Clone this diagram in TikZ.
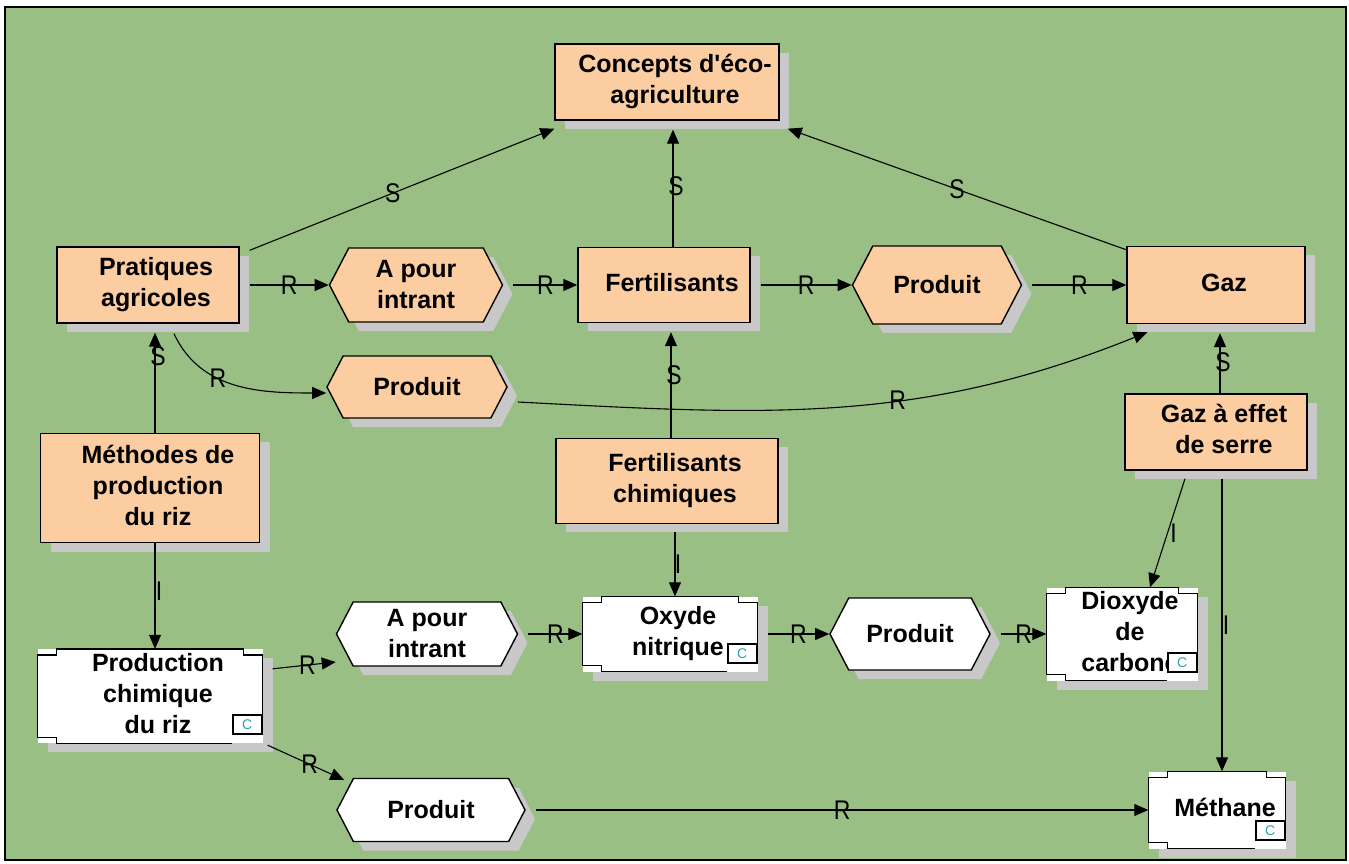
\documentclass[tikz,border=0pt]{standalone}
\usepackage{fontspec}
\setmainfont{Liberation Sans}
\newfontfamily\lblfont{Liberation Sans}[FakeStretch=0.85]
\usetikzlibrary{arrows.meta,shapes.symbols,shadows,calc}

\definecolor{bggreen}{RGB}{153,191,132}
\definecolor{conceptfill}{RGB}{252,205,160}
\definecolor{shadowgray}{RGB}{200,200,200}
\definecolor{iconcyan}{RGB}{40,165,175}

% text of a box, a little to the right as in the tool
\newcommand{\boxtext}[1]{\hspace*{16pt}\begin{tabular}{@{}c@{}}#1\end{tabular}}

% notched frame and C icon of an instance
\newcommand{\instframe}[1]{%
  \node[cicon, anchor=south east] (#1-c) at ([yshift=8pt]#1.south east) {C};
  \draw[line width=1.4pt] (#1-c.north east) -- ([yshift=-6pt]#1.north east) -- ++(-19,0) -- ++(0,6)
    -- ([xshift=19pt]#1.north west) -- ++(0,-6) -- ++(-19,0) -- ([yshift=6pt]#1.south west)
    -- ++(19,0) -- ++(0,-6) -- (#1-c.west |- #1.south);
}

\tikzset{
  boxshadow/.style={drop shadow={shadow xshift=10pt, shadow yshift=-9pt, fill=shadowgray, opacity=1}},
  concept/.style={rectangle, draw, line width=1.4pt, fill=conceptfill, inner sep=0pt,
    font=\bfseries\fontsize{25}{31}\selectfont, boxshadow},
  relation/.style={signal, signal to=west and east, signal pointer angle=125, draw, line width=1.4pt,
    fill=conceptfill, inner sep=0pt, align=center, font=\bfseries\fontsize{25}{31}\selectfont, boxshadow},
  relwhite/.style={relation, fill=white},
  instance/.style={rectangle, draw=none, fill=white, inner sep=0pt,
    font=\bfseries\fontsize{25}{31}\selectfont, boxshadow},
  cicon/.style={rectangle, draw, line width=2pt, fill=white, minimum width=29pt, minimum height=19pt,
    inner sep=0pt, font=\fontsize{14}{14}\selectfont, text=iconcyan},
  rel/.style={line width=1.1pt, -{Triangle[length=14pt,width=12pt]}},
  lbl/.style={font=\lblfont\fontsize{27}{27}\selectfont, inner sep=0pt},
}

\begin{document}
\begin{tikzpicture}[x=1pt, y=1pt]

  % page and frame
  \useasboundingbox (0,0) rectangle (1349,863);
  \fill[white] (0,0) rectangle (1349,863);
  \fill[bggreen] (5,3) rectangle (1346,856);
  \draw[line width=2.5pt] (5,3) rectangle (1346,856);

  % concepts
  \node[concept, minimum width=224pt, minimum height=76pt] (cpt) at (667,781) {\boxtext{Concepts d\textquotesingle éco-\\agriculture}};
  \node[concept, minimum width=182pt, minimum height=76pt] (pra) at (148,578) {\boxtext{Pratiques\\agricoles}};
  \node[concept, minimum width=172pt, minimum height=75pt] (fer) at (664,578) {\boxtext{Fertilisants}};
  \node[concept, minimum width=178pt, minimum height=77pt] (gaz) at (1216,578) {\boxtext{Gaz}};
  \node[concept, minimum width=182pt, minimum height=76pt] (ges) at (1216,431) {\boxtext{Gaz à effet\\de serre}};
  \node[concept, minimum width=219pt, minimum height=109pt] (met) at (150,375) {\boxtext{Méthodes de\\production\\du riz}};
  \node[concept, minimum width=222pt, minimum height=85pt] (fch) at (667,382) {\boxtext{Fertilisants\\chimiques}};

  % relations
  \node[relation, minimum width=173pt, minimum height=74pt] (api1) at (416,578) {A pour\\intrant};
  \node[relation, minimum width=169pt, minimum height=78pt] (pro2) at (937,578) {Produit};
  \node[relation, minimum width=180pt, minimum height=62pt] (pro1) at (417,476) {Produit};
  \node[relwhite, minimum width=181pt, minimum height=64pt] (api2) at (427,229) {A pour\\intrant};
  \node[relwhite, minimum width=160pt, minimum height=72pt] (pro4) at (910,229) {Produit};
  \node[relwhite, minimum width=188pt, minimum height=63pt] (pro3) at (431,53) {Produit};

  % instances
  \node[instance, minimum width=225pt, minimum height=94pt] (pcr) at (150,167) {\boxtext{Production\\chimique\\du riz}};
  \node[instance, minimum width=175pt, minimum height=75pt] (oxn) at (670,229) {\boxtext{Oxyde\\nitrique}};
  \node[instance, minimum width=151pt, minimum height=83pt] (dio) at (1122,229) {\boxtext{Dioxyde\\de\\carbone}};
  \node[instance, minimum width=137pt, minimum height=77pt] (mth) at (1217,53) {\boxtext{Méthane}};
  \instframe{pcr}
  \instframe{oxn}
  \instframe{dio}
  \instframe{mth}

  % S links up to the concept
  \draw[rel] ([xshift=10pt,yshift=-4pt]pra.north east) -- node[lbl, pos=0.47]{S} ([yshift=-8pt]cpt.south west);
  \draw[rel, shorten >=9pt] ([xshift=9pt]fer.north) -- node[lbl, pos=0.48, xshift=3pt]{S} ([xshift=9pt]fer.north |- cpt.south);
  \draw[rel] ([yshift=-4pt]gaz.north west) -- node[lbl]{S} ([xshift=8pt,yshift=-8pt]cpt.south east);

  % R links on the top row
  \draw[rel] ([xshift=10pt]pra.east) -- node[lbl]{R} (api1.west);
  \draw[rel] ([xshift=10pt]api1.east) -- node[lbl]{R} (fer.west);
  \draw[rel] ([xshift=10pt]fer.east) -- node[lbl]{R} (pro2.west);
  \draw[rel] ([xshift=10pt]pro2.east) -- node[lbl]{R} (gaz.west);

  % curved R links
  \draw[rel] ([xshift=26pt,yshift=-10pt]pra.south) to[out=-65, in=180] node[lbl, pos=0.38]{R} ([yshift=-6pt]pro1.west);
  \draw[rel] ([xshift=10pt,yshift=-15pt]pro1.east) to[out=-3, in=202] node[lbl, pos=0.6]{R} ([xshift=21pt,yshift=-8pt]gaz.south west);

  % S links from below
  \draw[rel, shorten >=9pt] ([xshift=5pt]met.north) -- node[lbl, pos=0.7, xshift=3pt]{S} ([xshift=5pt]met.north |- pra.south);
  \draw[rel, shorten >=9pt] ([xshift=4pt]fch.north) -- node[lbl, pos=0.55, xshift=3pt]{S} ([xshift=4pt]fch.north |- fer.south);
  \draw[rel, shorten >=9pt] ([xshift=4pt]ges.north) -- node[lbl, pos=0.45, xshift=3pt]{S} ([xshift=4pt]ges.north |- gaz.south);

  % I links down to the instances
  \draw[rel] ([xshift=5pt]met.south) -- node[lbl, pos=0.45, xshift=4pt]{I} ([xshift=5pt]met.south |- pcr.north);
  \draw[rel] ([xshift=8pt,yshift=-8pt]fch.south) -- node[lbl, xshift=3pt]{I} ([xshift=8pt]fch.south |- oxn.north);
  \draw[rel] ([xshift=-31pt,yshift=-8pt]ges.south) -- node[lbl, xshift=6pt]{I} ([xshift=28pt]dio.north);
  \draw[rel] ([xshift=6pt,yshift=-8pt]ges.south) -- node[lbl, xshift=4pt]{I} ([xshift=6pt]ges.south |- mth.north);

  % R links on the lower rows
  \draw[rel] ([xshift=10pt,yshift=-20pt]pcr.north east) -- node[lbl, pos=0.55]{R} ([yshift=-28pt]api2.west);
  \draw[rel] ([xshift=10pt]api2.east) -- node[lbl]{R} (api2.east -| oxn.west);
  \draw[rel] ([xshift=10pt]oxn.east) -- node[lbl]{R} (oxn.east -| pro4.west);
  \draw[rel] ([xshift=10pt]pro4.east) -- node[lbl]{R} (pro4.east -| dio.west);
  \draw[rel] ([xshift=5pt,yshift=-2pt]pcr.south east) -- node[lbl, pos=0.55]{R} ($(pro3.west)+(8,30)$);
  \draw[rel] ([xshift=10pt]pro3.east) -- node[lbl]{R} (pro3.east -| mth.west);

\end{tikzpicture}
\end{document}
